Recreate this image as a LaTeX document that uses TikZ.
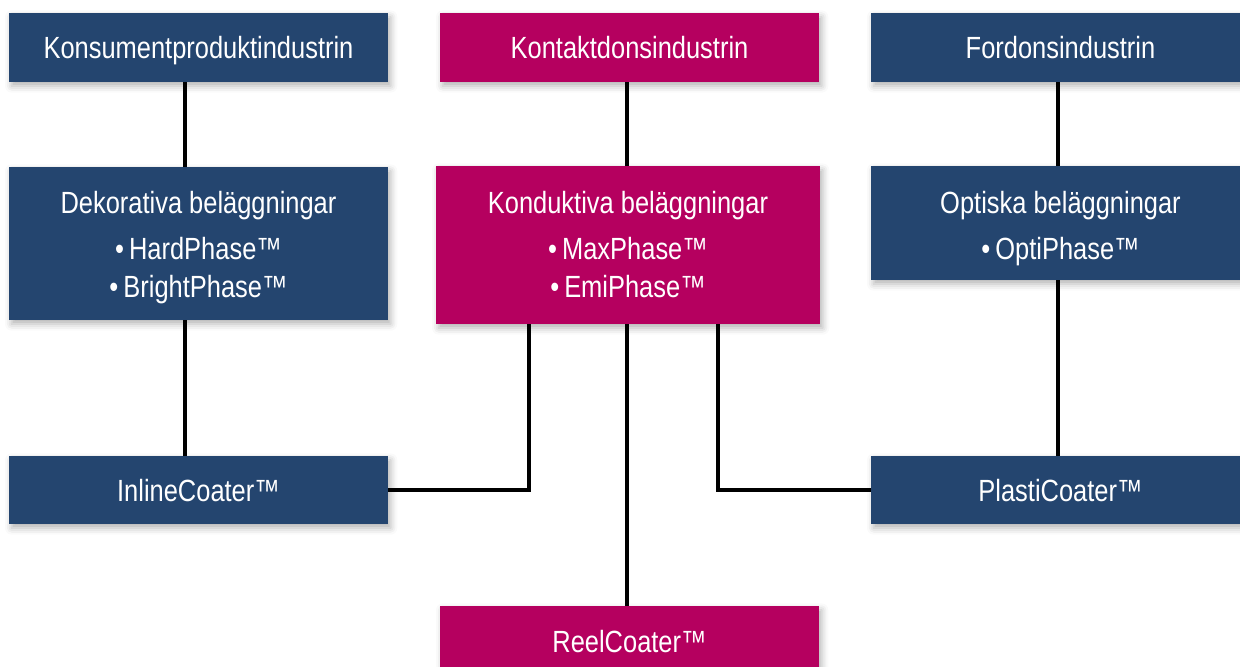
\documentclass[tikz,border=0pt]{standalone}
\usepackage{fontspec}
\setmainfont{Liberation Sans}[FakeStretch=0.83]
\usetikzlibrary{shadows.blur}
\definecolor{cblue}{HTML}{24456F}
\definecolor{cmag}{HTML}{B5005F}
\begin{document}
\begin{tikzpicture}[x=0.75pt,y=-0.75pt,
  box/.style={draw=none, inner sep=0pt,
    blur shadow={shadow xshift=2pt, shadow yshift=-3pt, shadow blur radius=5pt, shadow opacity=30}},
  bluebox/.style={box, fill=cblue, minimum width=284.25pt},
  magbox/.style={box, fill=cmag, minimum width=284.25pt},
  txt/.style={anchor=base, inner sep=0pt, text=white, font=\fontsize{23}{30}\selectfont},
  conn/.style={line width=3pt, black}]
\useasboundingbox (0,0) rectangle (1240,667);
\coordinate (xl) at (185,0);
\coordinate (xm) at (627,0);
\coordinate (xr) at (1058,0);
\coordinate (xa) at (529,0);
\coordinate (xb) at (718,0);

% boxes
\node[bluebox, minimum height=51.75pt] (kons) at (198.5,47.5) {};
\node[magbox, minimum height=51.75pt] (kont) at (629.5,47.5) {};
\node[bluebox, minimum height=51.75pt] (ford) at (1060.5,47.5) {};
\node[bluebox, minimum height=114.75pt] (dek) at (198.5,243.5) {};
\node[magbox, minimum width=288pt, minimum height=118.5pt] (kond) at (628,245) {};
\node[bluebox, minimum height=85.5pt] (opt) at (1060.5,223) {};
\node[bluebox, minimum height=51pt] (inl) at (198.5,490) {};
\node[bluebox, minimum height=51pt] (pla) at (1060.5,490) {};
\node[magbox, minimum height=52.5pt] (reel) at (629.5,641) {};

% texts
\node[txt] (konst) at (198.5,59) {Konsumentproduktindustrin};
\node[txt] (kontt) at (629.5,59) {Kontaktdonsindustrin};
\node[txt] (fordt) at (1060.5,59) {Fordonsindustrin};
\node[txt] (dek1) at (198.5,213) {Dekorativa beläggningar};
\node[txt] (dek2) at (198.5,259) {•\,HardPhase™};
\node[txt] (dek3) at (198.5,297) {•\,BrightPhase™};
\node[txt] (kond1) at (628,213) {Konduktiva beläggningar};
\node[txt] (kond2) at (628,259) {•\,MaxPhase™};
\node[txt] (kond3) at (628,297) {•\,EmiPhase™};
\node[txt] (opt1) at (1060.5,213) {Optiska beläggningar};
\node[txt] (opt2) at (1060.5,259) {•\,OptiPhase™};
\node[txt] (inlt) at (198.5,501.5) {InlineCoater™};
\node[txt] (plat) at (1060.5,501.5) {PlastiCoater™};
\node[txt] (reelt) at (629.5,652) {ReelCoater™};

% connectors
\draw[conn] (kons.south -| xl) -- (dek.north -| xl);
\draw[conn] (dek.south -| xl) -- (inl.north -| xl);
\draw[conn] (kont.south -| xm) -- (kond.north -| xm);
\draw[conn] (kond.south -| xm) -- (reel.north -| xm);
\draw[conn] (ford.south -| xr) -- (opt.north -| xr);
\draw[conn] (opt.south -| xr) -- (pla.north -| xr);
\draw[conn] (inl.east) -| (kond.south -| xa);
\draw[conn] (pla.west) -| (kond.south -| xb);
\end{tikzpicture}
\end{document}
